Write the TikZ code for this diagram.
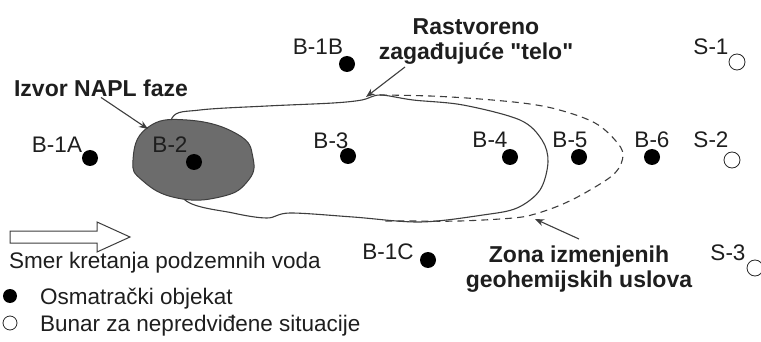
\documentclass[tikz,border=0pt]{standalone}
\usepackage{fontspec}
\setmainfont{Liberation Sans}[Ligatures=TeXOff]
\usepackage{tikz}
\usetikzlibrary{arrows.meta}
\definecolor{lnc}{RGB}{62,62,62}
\definecolor{txc}{RGB}{30,30,30}
\definecolor{napl}{RGB}{108,108,108}
\tikzset{
  lbl/.style={font=\fontsize{22.5}{25}\selectfont,text=txc,inner sep=0pt},
  blbl/.style={font=\bfseries\fontsize{23}{25}\selectfont,text=txc,inner sep=0pt,align=center},
  obs/.style={circle,fill=black,inner sep=0pt,minimum size=16pt},
  well/.style={circle,draw=black!85,line width=0.8pt,fill=white,inner sep=0pt,minimum size=16pt},
  ptr/.style={-{Stealth[length=9pt,width=7pt]},lnc,line width=1.1pt},
}

\begin{document}
\begin{tikzpicture}[x=1pt,y=-1pt]
  \useasboundingbox (0,0) rectangle (761,342);
  % dissolved plume
  \draw[lnc,line width=1.1pt] plot[smooth cycle,tension=0.55] coordinates {
    (172,118) (200,110) (267,106) (333,103) (362,100) (380,95) (413,100)
    (463,105) (520,120) (542,140) (548,162) (540,190) (517,208) (483,215)
    (420,222) (353,217) (290,213) (267,218) (233,213) (185,200) (170,160)};
  % zone of changed conditions
  \draw[lnc,line width=1.1pt,dash pattern=on 7pt off 5pt] plot[smooth,tension=0.6] coordinates {
    (380,95) (430,96) (480,99) (530,104) (563,111) (595,123) (615,140)
    (623,155) (615,173) (590,190) (563,204) (535,214) (513,218) (460,221)
    (413,221) (385,221)};
  % NAPL source
  \fill[napl,draw=lnc,line width=1pt] plot[smooth cycle,tension=0.8] coordinates {
    (133,160) (147,128) (187,120) (237,134) (253,158) (247,182) (220,197)
    (177,198) (143,181)};
  % observation wells
  \foreach \id/\txt/\lx/\ly/\dx/\dy in {b1a/B-1A/57/153/90/158, b2/B-2/170/153/194/162,
      b3/B-3/331/149/348/156, b4/B-4/490/148/510/157, b5/B-5/570/148/579/157,
      b6/B-6/652/148/652/157, b1b/B-1B/318/55/347/64, b1c/B-1C/388/259/428/260} {
    \node[obs] (\id) at (\dx,\dy) {};
    \node[lbl,anchor=base] (l\id) at (\lx,\ly) {\txt};
  }
  % contingency wells
  \foreach \id/\txt/\lx/\ly/\dx/\dy in {s1/S-1/711/55/737/62, s2/S-2/711/148/732/160,
      s3/S-3/728/260/755/268} {
    \node[well] (\id) at (\dx,\dy) {};
    \node[lbl,anchor=base] (l\id) at (\lx,\ly) {\txt};
  }
  % callouts
  \node[blbl,anchor=base] (izvor) at (101,97) {Izvor NAPL faze};
  \node[blbl,anchor=north] (telo) at (476,18) {Rastvoreno\\zagađujuće "telo"};
  \node[blbl,anchor=north] (zona) at (579,246) {Zona izmenjenih\\geohemijskih uslova};
  \coordinate (izvorTip) at (148,129);
  \coordinate (teloTail) at (405,67);
  \coordinate (teloTip) at (366,97);
  \coordinate (zonaTip) at (535,219);
  \draw[ptr] (izvor.south) -- (izvorTip);
  \draw[ptr] (teloTail) -- (teloTip);
  \draw[ptr] ([yshift=7pt]zona.north) -- (zonaTip);
  % legend
  \draw[lnc,line width=1pt,fill=white] (10,231) -- (97,231) -- (97,222) -- (130,237)
    -- (97,252) -- (97,243) -- (10,243) -- cycle;
  \node[lbl,anchor=base west] (smer) at (9,269) {Smer kretanja podzemnih voda};
  \node[obs,minimum size=14pt] (legobs) at (10,296) {};
  \node[lbl,anchor=base west] (osm) at (40,304) {Osmatrački objekat};
  \node[well,minimum size=14pt] (legwell) at (10,323) {};
  \node[lbl,anchor=base west] (bunar) at (40,331) {Bunar za nepredviđene situacije};
\end{tikzpicture}
\end{document}
